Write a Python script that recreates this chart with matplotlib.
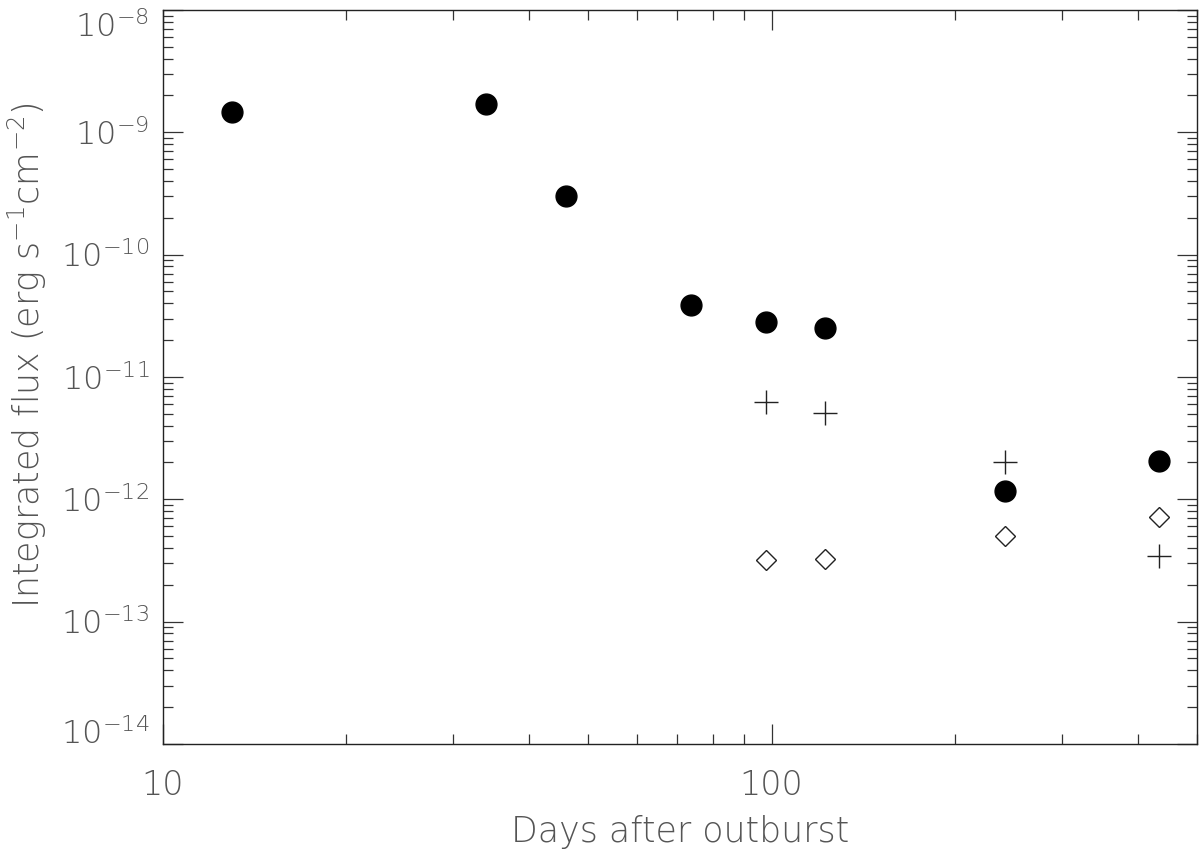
import matplotlib
matplotlib.use('Agg')
import matplotlib.pyplot as plt
from matplotlib.ticker import LogLocator, FixedLocator, FuncFormatter, NullFormatter
import matplotlib.transforms as mtransforms
import numpy as np

plt.rcParams['font.family'] = ['DejaVu Sans']
plt.rcParams['mathtext.fontset'] = 'custom'
plt.rcParams['mathtext.rm'] = 'DejaVu Sans:weight=200'
plt.rcParams['mathtext.it'] = 'DejaVu Sans:weight=200'
plt.rcParams['mathtext.default'] = 'rm'

# total flux (filled circles)
days_tot = [13.0, 34.0, 45.9, 73.8, 98.0, 122.6, 241.8, 432.6]
flux_tot = [1.46e-9, 1.69e-9, 3.0e-10, 3.9e-11, 2.83e-11, 2.53e-11, 1.16e-12, 2.07e-12]

# crosses
days_plus = [98.0, 122.6, 241.8, 432.6]
flux_plus = [6.2e-12, 5.1e-12, 2.0e-12, 3.47e-13]

# open diamonds
days_dia = [98.0, 122.6, 241.8, 432.6]
flux_dia = [3.2e-13, 3.26e-13, 4.97e-13, 7.2e-13]

xticks = [10, 100]
yticks = [1e-14, 1e-13, 1e-12, 1e-11, 1e-10, 1e-9, 1e-8]

txtcol = '#555555'

fig = plt.figure(figsize=(12, 8.52), dpi=100)
ax = fig.add_axes([0.1358, 0.1268, 0.8617, 0.8615])

ax.plot(days_tot, flux_tot, 'o', color='black', ms=15, mec='black')
ax.plot(days_plus, flux_plus, '+', color='#222222', ms=17, mew=1.0)
ax.plot(days_dia, flux_dia, 'D', mfc='white', mec='#222222', ms=10, mew=1.0)

ax.set_xscale('log')
ax.set_yscale('log')
ax.set_xlim(10, 500)
ax.set_ylim(1e-14, 1e-8)

ax.xaxis.set_major_locator(FixedLocator(xticks))
ax.xaxis.set_minor_locator(LogLocator(base=10, subs=np.arange(2, 10)))
ax.xaxis.set_major_formatter(FuncFormatter(lambda v, p: '%d' % v))
ax.xaxis.set_minor_formatter(NullFormatter())

ax.yaxis.set_major_locator(FixedLocator(yticks))
ax.yaxis.set_minor_locator(LogLocator(base=10, subs=np.arange(2, 10), numticks=20))
ax.yaxis.set_major_formatter(FuncFormatter(lambda v, p: r'$10^{%d}$' % round(np.log10(v))))
ax.yaxis.set_minor_formatter(NullFormatter())

for sp in ax.spines.values():
    sp.set_linewidth(1.0)
    sp.set_color('#222222')

ax.tick_params(which='both', direction='in', top=True, right=True, color='#333333', width=0.9)
ax.tick_params(which='major', length=14.5)
ax.tick_params(which='minor', length=7.2)
ax.tick_params(axis='x', which='major', pad=18, labelsize=24, labelcolor=txtcol)
ax.tick_params(axis='y', which='major', pad=10, labelsize=23, labelcolor=txtcol)
for lab in ax.get_xticklabels():
    lab.set_fontweight(200)

ax.set_xlabel('Days after outburst', fontsize=25, color=txtcol, fontweight=200)
ax.set_ylabel(r'Integrated flux (erg s$^{-1}$cm$^{-2}$)', fontsize=25, color=txtcol, fontweight=200)
ax.xaxis.set_label_coords(0.5, -0.097)
ax.yaxis.set_label_coords(-0.11, 0.53)

# keep the end y labels inside the frame, as in the original
fig.canvas.draw()
for t in ax.yaxis.get_major_ticks():
    e = round(np.log10(t.get_loc()))
    if e == -8:
        off = mtransforms.ScaledTranslation(0, -10 / 72, fig.dpi_scale_trans)
        t.label1.set_transform(t.label1.get_transform() + off)
    elif e == -14:
        off = mtransforms.ScaledTranslation(0, 9 / 72, fig.dpi_scale_trans)
        t.label1.set_transform(t.label1.get_transform() + off)

fig.savefig('out.png', dpi=100, facecolor='white')
